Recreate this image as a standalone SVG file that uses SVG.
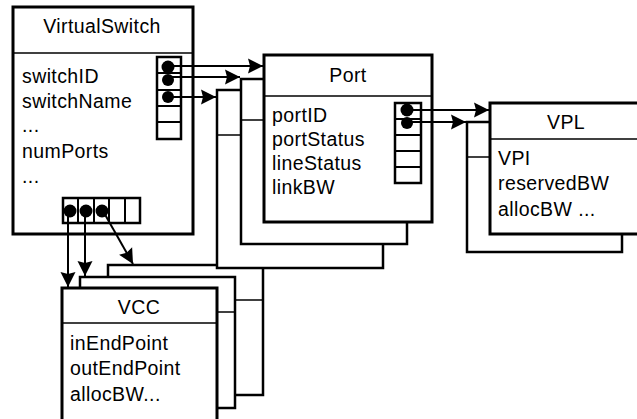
<svg xmlns="http://www.w3.org/2000/svg" width="637" height="419" viewBox="0 0 637 419">
<style>
.box{fill:#fff;stroke:#000;stroke-width:3}
.shadow{fill:#fff;stroke:#000;stroke-width:2.5}
.sep{stroke:#000;stroke-width:1.5;fill:none}
.stack{fill:#fff;stroke:#000;stroke-width:2.5}
.cl{stroke:#000;stroke-width:2;fill:none}
.dot{fill:#000}
.t{font-family:"Liberation Sans",Arial,sans-serif;font-size:19.5px;letter-spacing:0.4px;fill:#000}
.ti{text-anchor:middle}
.wire{stroke:#000;stroke-width:2;fill:none;marker-end:url(#ah)}
</style>
<defs>
<marker id="ah" markerUnits="userSpaceOnUse" markerWidth="16" markerHeight="16" refX="15" refY="8" orient="auto" overflow="visible">
<path d="M0,0.5 L15,8 L0,15.5 L2,8 z" fill="#000"/>
</marker>
</defs>
<rect width="637" height="419" fill="#fff"/>

<g id="vcc">
<rect class="shadow" x="108" y="265" width="155" height="130"/>
<line class="sep" x1="108" y1="300" x2="263" y2="300"/>
<rect class="shadow" x="80" y="277" width="155" height="131"/>
<line class="sep" x1="80" y1="312" x2="235" y2="312"/>
<rect class="box" x="62" y="288" width="155" height="145"/>
<line class="sep" x1="62" y1="323" x2="217" y2="323"/>
<text class="t ti" x="139" y="314">VCC</text>
<text class="t" x="70" y="350">inEndPoint</text>
<text class="t" x="70" y="375">outEndPoint</text>
<text class="t" x="70" y="401">allocBW...</text>
</g>

<g id="port">
<rect class="shadow" x="217" y="90" width="166" height="178"/>
<line class="sep" x1="217" y1="135" x2="383" y2="135"/>
<rect class="shadow" x="241" y="79" width="166" height="165"/>
<line class="sep" x1="241" y1="120" x2="407" y2="120"/>
<rect class="box" x="264" y="55" width="168" height="167"/>
<line class="sep" x1="264" y1="96" x2="432" y2="96"/>
<text class="t ti" x="348" y="82">Port</text>
<text class="t" x="272" y="122">portID</text>
<text class="t" x="272" y="146">portStatus</text>
<text class="t" x="272" y="170">lineStatus</text>
<text class="t" x="272" y="194">linkBW</text>
<rect class="stack" x="395" y="103" width="26" height="80"/>
<path class="cl" d="M395,119H421M395,135H421M395,151H421M395,167H421"/>
<circle class="dot" cx="407" cy="110" r="6.5"/>
<circle class="dot" cx="407" cy="123" r="6"/>
</g>

<g id="vpl">
<rect class="shadow" x="467" y="122" width="155" height="130"/>
<line class="sep" x1="467" y1="157" x2="622" y2="157"/>
<rect class="box" x="490" y="103" width="160" height="131"/>
<line class="sep" x1="490" y1="139" x2="650" y2="139"/>
<text class="t ti" x="566" y="129">VPL</text>
<text class="t" x="498" y="165">VPI</text>
<text class="t" x="498" y="190">reservedBW</text>
<text class="t" x="498" y="216">allocBW ...</text>
</g>

<g id="virtualswitch">
<rect class="box" x="13" y="7" width="180" height="227"/>
<line class="sep" x1="13" y1="53" x2="193" y2="53"/>
<text class="t ti" x="102" y="33">VirtualSwitch</text>
<text class="t" x="22" y="83">switchID</text>
<text class="t" x="22" y="108">switchName</text>
<text class="t" x="22" y="132">...</text>
<text class="t" x="22" y="158">numPorts</text>
<text class="t" x="22" y="183">...</text>
<rect class="stack" x="157" y="57" width="24" height="82"/>
<path class="cl" d="M157,73H181M157,90H181M157,106H181M157,122H181"/>
<circle class="dot" cx="168" cy="67" r="6.5"/>
<circle class="dot" cx="168" cy="80" r="6"/>
<circle class="dot" cx="168" cy="97" r="6"/>
<rect class="stack" x="63" y="198" width="77" height="25"/>
<path class="cl" d="M78,198V223M94,198V223M109,198V223M125,198V223"/>
<circle class="dot" cx="70" cy="211" r="6.5"/>
<circle class="dot" cx="86" cy="211" r="6.5"/>
<circle class="dot" cx="102" cy="211" r="6.5"/>
</g>

<g id="connectors">
<path class="wire" d="M168,66H263"/>
<path class="wire" d="M168,77H240"/>
<path class="wire" d="M168,97H216"/>
<path class="wire" d="M407,110H489"/>
<path class="wire" d="M407,122H466"/>
<path class="wire" d="M68,211V287"/>
<path class="wire" d="M85,211V276"/>
<path class="wire" d="M103,211L133,264"/>
</g>
</svg>
